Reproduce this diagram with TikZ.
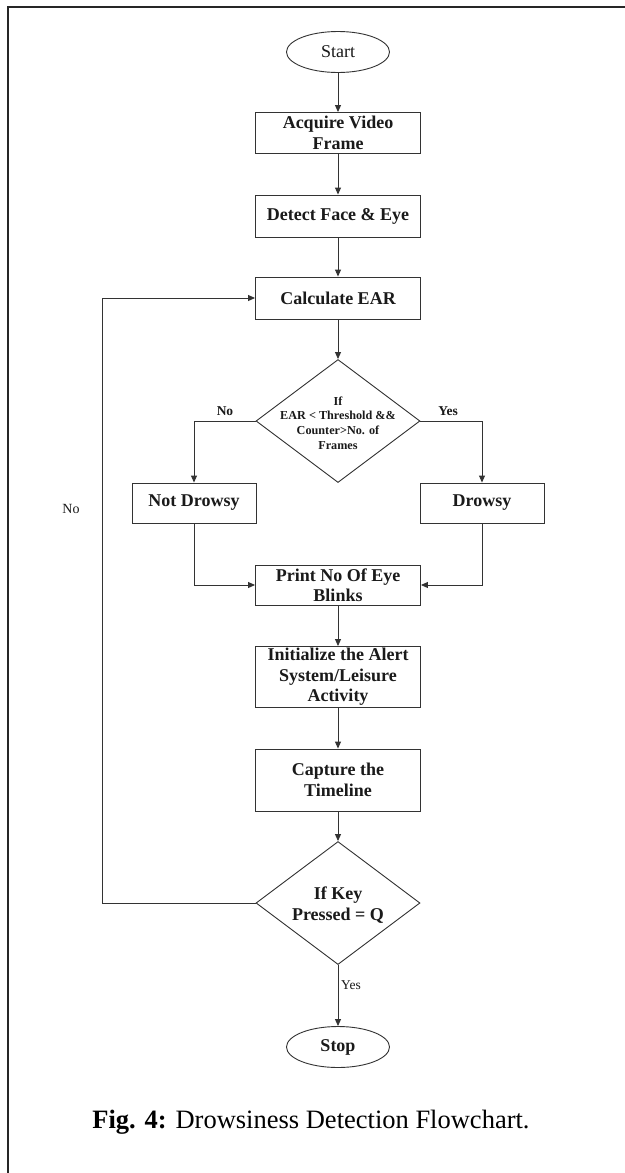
\documentclass[tikz,border=0pt]{standalone}
\usepackage{fontspec}
\setmainfont{Liberation Serif}
\usetikzlibrary{arrows.meta,shapes.geometric,calc}
\definecolor{ln}{HTML}{333333}
\definecolor{tx}{HTML}{1A1A1A}
\tikzset{
  every node/.style={text=tx},
  procbox/.style={draw=ln, line width=0.9pt, rectangle, minimum width=165pt, inner sep=0pt, align=center, font=\fontsize{18}{20.5}\selectfont\bfseries},
  sidebox/.style={procbox, minimum width=124pt, minimum height=40pt},
  term/.style={draw=ln, line width=0.9pt, ellipse, minimum width=103pt, minimum height=41pt, inner sep=0pt, font=\fontsize{18}{20}\selectfont},
  decision/.style={draw=ln, line width=0.9pt, diamond, minimum width=164pt, minimum height=123pt, inner sep=0pt},
  dtext/.style={align=center, inner sep=0pt},
  arr/.style={draw=ln, line width=0.9pt, -{Triangle[length=7pt,width=6pt]}},
  lbl/.style={inner sep=0pt, font=\fontsize{13.5}{15}\selectfont},
}
\begin{document}
\begin{tikzpicture}[x=1pt,y=-1pt]
\useasboundingbox (0,0) rectangle (624,1173);
\fill[white] (0,0) rectangle (624,1173);
% frame
\draw[line width=2pt, black!85] (8,1174) -- (8,7) -- (625,7);

\node[term] (start) at (338,52) {Start};
\node[procbox, minimum height=41pt] (acq) at (338,133) {Acquire Video\\Frame};
\node[procbox, minimum height=42pt] (det) at (338,216) {Detect Face \& Eye};
\node[procbox, minimum height=42pt] (calc) at (338,298) {Calculate EAR};
\node[decision] (d1) at (338,421) {};
\node[dtext, font=\fontsize{12.2}{14.6}\selectfont\bfseries] (d1t) at (338,423) {If\\EAR < Threshold \&\&\\Counter>No. of\\Frames};
\node[sidebox] (nd) at (194,503) {Not Drowsy};
\node[sidebox] (dr) at (482,503) {Drowsy};
\node[procbox, minimum height=40pt] (pr) at (338,585) {Print No Of Eye\\Blinks};
\node[procbox, minimum height=61pt] (init) at (338,677) {Initialize the Alert\\System/Leisure\\Activity};
\node[procbox, minimum height=62pt] (cap) at (338,780) {Capture the\\Timeline};
\node[decision] (d2) at (338,903) {};
\node[dtext, font=\fontsize{18}{21}\selectfont\bfseries] (d2t) at (338,905) {If Key\\Pressed = Q};
\node[term, font=\fontsize{18}{20}\selectfont\bfseries] (stop) at (338,1047) {Stop};

\coordinate (lp) at (102,903);

\draw[arr] (start) -- (acq);
\draw[arr] (acq) -- (det);
\draw[arr] (det) -- (calc);
\draw[arr] (calc) -- (d1.north);
\draw[arr] (d1.west) -| (nd.north);
\draw[arr] (d1.east) -| (dr.north);
\draw[arr] (nd.south) |- (pr.west);
\draw[arr] (dr.south) |- (pr.east);
\draw[arr] (pr) -- (init);
\draw[arr] (init) -- (cap);
\draw[arr] (cap) -- (d2.north);
\draw[arr] (d2.south) -- (stop);
\draw[arr] (d2.west) -- (lp) |- (calc.west);

\node[lbl, font=\fontsize{13.5}{15}\selectfont\bfseries] (no1) at (225,411) {No};
\node[lbl, font=\fontsize{13.5}{15}\selectfont\bfseries] (yes1) at (448,411) {Yes};
\node[lbl, font=\fontsize{14}{16}\selectfont] (no2) at (71,509) {No};
\node[lbl] (yes2) at (351,985) {Yes};

\node[inner sep=0pt, font=\fontsize{26.5}{30}\selectfont, text=black] (cap0) at (311,1122) {\textbf{Fig. 4:} Drowsiness Detection Flowchart.};
\end{tikzpicture}
\end{document}
